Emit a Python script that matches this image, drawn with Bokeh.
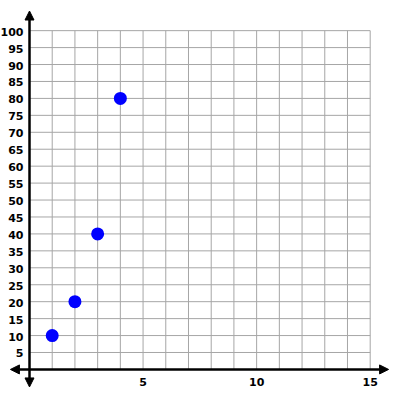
from bokeh.plotting import figure
from bokeh.models import Range1d, Arrow, NormalHead, ColumnDataSource
from bokeh.core.properties import value
from bokeh.embed import file_html
from bokeh.resources import INLINE

# data
x_vals = [1, 2, 3, 4]
y_vals = [10, 20, 40, 80]

x_ticks = [5, 10, 15]
x_tick_labels = ["5", "10", "15"]
y_ticks = [5, 10, 15, 20, 25, 30, 35, 40, 45, 50, 55, 60, 65, 70, 75, 80, 85, 90, 95, 100]
y_tick_labels = [str(v) for v in y_ticks]
x_grid = list(range(1, 16))
y_grid = y_ticks

X_MAX = 15
Y_MAX = 100

p = figure(width=392, height=392, output_backend="svg", toolbar_location=None,
           x_range=Range1d(-1.277, 15.982), y_range=Range1d(-6.81, 108.9),
           min_border=0, min_border_left=0, min_border_right=0,
           min_border_top=0, min_border_bottom=0)
p.axis.visible = False
p.grid.visible = False
p.outline_line_color = None
p.background_fill_color = "white"
p.border_fill_color = "white"

grid_color = "#a6a6a6"
# vertical grid lines
p.segment(x0=x_grid, y0=[0] * len(x_grid), x1=x_grid, y1=[Y_MAX] * len(x_grid),
          line_color=grid_color, line_width=1)
# horizontal grid lines
p.segment(x0=[0] * len(y_grid), y0=y_grid, x1=[X_MAX] * len(y_grid), y1=y_grid,
          line_color=grid_color, line_width=1)

# axes with arrows
p.add_layout(Arrow(start=NormalHead(size=9, fill_color="black", line_color="black"),
                   end=NormalHead(size=9, fill_color="black", line_color="black"),
                   x_start=-0.84, y_start=0, x_end=15.81, y_end=0,
                   line_color="black", line_width=2.5))
p.add_layout(Arrow(start=NormalHead(size=9, fill_color="black", line_color="black"),
                   end=NormalHead(size=9, fill_color="black", line_color="black"),
                   x_start=0, y_start=-5.17, x_end=0, y_end=105.8,
                   line_color="black", line_width=2.5))

# tick labels
p.text(x=[0] * len(y_ticks), y=y_ticks, text=y_tick_labels,
       text_font=value("DejaVu Sans"), text_font_size="11px", text_font_style="bold",
       text_color="black", text_align="right", text_baseline="middle",
       x_offset=-6, y_offset=1)
p.text(x=x_ticks, y=[0] * len(x_ticks), text=x_tick_labels,
       text_font=value("DejaVu Sans"), text_font_size="11px", text_font_style="bold",
       text_color="black", text_align="center", text_baseline="middle", y_offset=13)

# points
src = ColumnDataSource(dict(x=x_vals, y=y_vals))
p.scatter("x", "y", source=src, size=13, fill_color="#0000ff", line_color=None)

open("out.html", "w").write(file_html(p, INLINE))
